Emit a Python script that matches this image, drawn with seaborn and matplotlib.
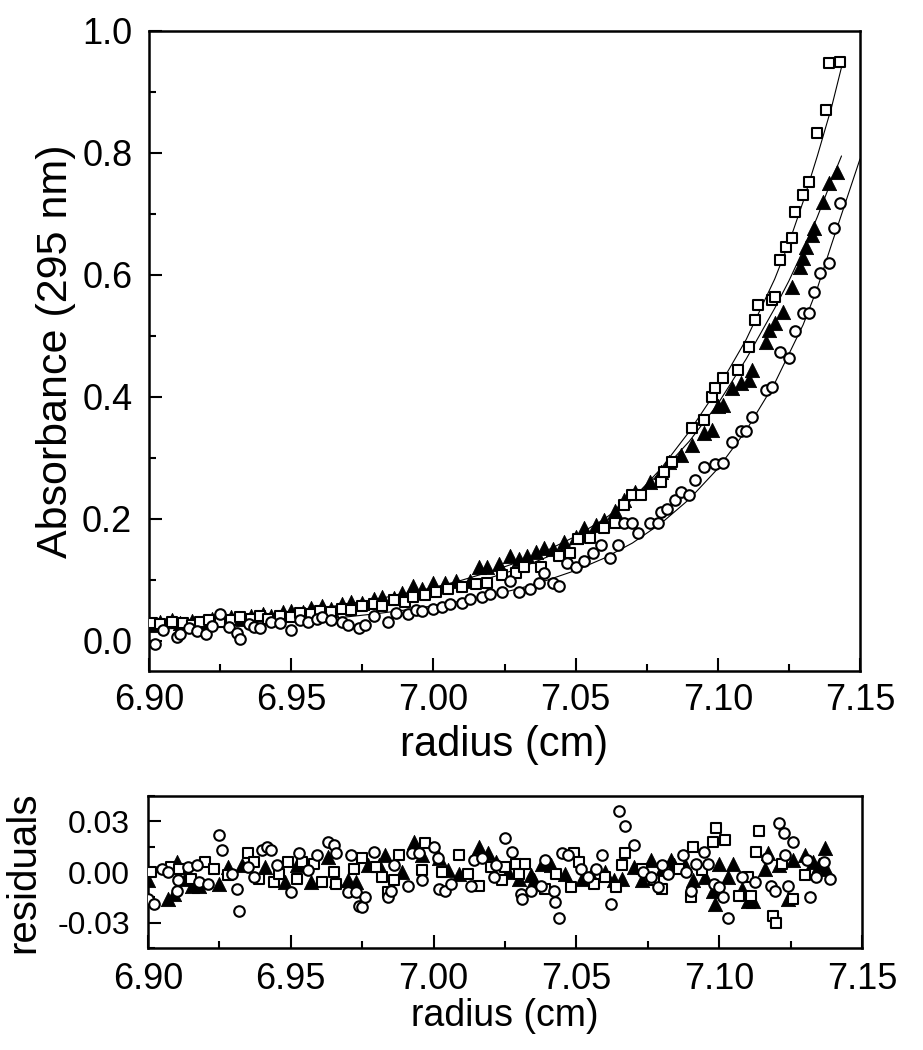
import numpy as np
import pandas as pd
import matplotlib
matplotlib.use('Agg')
import matplotlib.pyplot as plt
from matplotlib.ticker import MultipleLocator, FormatStrFormatter
import seaborn as sns

# ---- absorbance scans (upper panel) ----
sq_r = [6.901, 6.904, 6.908, 6.912, 6.915, 6.918, 6.921, 6.925, 6.929, 6.932, 6.936, 6.939,
        6.942, 6.946, 6.950, 6.953, 6.957, 6.960, 6.964, 6.968, 6.971, 6.975, 6.979, 6.982,
        6.986, 6.990, 6.993, 6.997, 7.001, 7.005, 7.010, 7.015, 7.019, 7.024, 7.029, 7.032,
        7.038, 7.044, 7.048, 7.051, 7.055, 7.060, 7.064, 7.067, 7.070, 7.073, 7.080, 7.081,
        7.084, 7.091, 7.095, 7.098, 7.099, 7.102, 7.107, 7.111, 7.113, 7.114, 7.119, 7.120,
        7.122, 7.124, 7.126, 7.127, 7.130, 7.132, 7.135, 7.138, 7.139, 7.143]
sq_a = [0.028, 0.027, 0.030, 0.029, 0.026, 0.031, 0.034, 0.030, 0.033, 0.038, 0.036, 0.040,
        0.035, 0.041, 0.039, 0.045, 0.043, 0.048, 0.046, 0.052, 0.050, 0.056, 0.060, 0.057,
        0.066, 0.063, 0.072, 0.075, 0.080, 0.084, 0.087, 0.092, 0.095, 0.108, 0.111, 0.121,
        0.121, 0.138, 0.144, 0.166, 0.169, 0.185, 0.193, 0.223, 0.239, 0.239, 0.260, 0.277,
        0.293, 0.349, 0.362, 0.400, 0.415, 0.431, 0.444, 0.482, 0.526, 0.551, 0.559, 0.564,
        0.625, 0.646, 0.660, 0.703, 0.731, 0.752, 0.833, 0.870, 0.948, 0.949]

tr_r = [6.901, 6.904, 6.908, 6.911, 6.915, 6.919, 6.922, 6.926, 6.929, 6.933, 6.936, 6.940,
        6.943, 6.947, 6.950, 6.954, 6.957, 6.961, 6.964, 6.968, 6.971, 6.975, 6.979, 6.982,
        6.986, 6.989, 6.993, 6.996, 7.000, 7.004, 7.008, 7.013, 7.016, 7.019, 7.023, 7.027,
        7.030, 7.033, 7.036, 7.039, 7.042, 7.046, 7.050, 7.053, 7.057, 7.060, 7.064, 7.067,
        7.071, 7.076, 7.080, 7.083, 7.087, 7.091, 7.095, 7.098, 7.100, 7.102, 7.105, 7.108,
        7.111, 7.112, 7.117, 7.118, 7.120, 7.123, 7.126, 7.129, 7.130, 7.131, 7.133, 7.134,
        7.137, 7.139, 7.142]
tr_a = [0.025, 0.030, 0.033, 0.028, 0.032, 0.030, 0.035, 0.033, 0.038, 0.036, 0.041, 0.044,
        0.040, 0.046, 0.049, 0.047, 0.053, 0.056, 0.052, 0.060, 0.063, 0.062, 0.068, 0.072,
        0.070, 0.078, 0.090, 0.085, 0.095, 0.095, 0.097, 0.097, 0.121, 0.121, 0.125, 0.138,
        0.133, 0.138, 0.145, 0.152, 0.150, 0.161, 0.170, 0.185, 0.190, 0.198, 0.212, 0.231,
        0.243, 0.260, 0.276, 0.293, 0.305, 0.321, 0.340, 0.346, 0.384, 0.387, 0.415, 0.423,
        0.428, 0.444, 0.490, 0.510, 0.521, 0.539, 0.580, 0.613, 0.628, 0.646, 0.666, 0.677,
        0.720, 0.750, 0.769]

ci_r = [6.902, 6.905, 6.910, 6.911, 6.914, 6.917, 6.920, 6.922, 6.925, 6.928, 6.931, 6.932,
        6.935, 6.937, 6.939, 6.943, 6.946, 6.950, 6.953, 6.956, 6.959, 6.961, 6.964, 6.968,
        6.970, 6.974, 6.976, 6.979, 6.984, 6.987, 6.991, 6.994, 6.996, 7.000, 7.003, 7.006,
        7.010, 7.013, 7.017, 7.020, 7.024, 7.027, 7.030, 7.034, 7.037, 7.039, 7.042, 7.044,
        7.047, 7.050, 7.053, 7.056, 7.059, 7.062, 7.065, 7.067, 7.070, 7.072, 7.076, 7.079,
        7.080, 7.082, 7.085, 7.087, 7.090, 7.092, 7.095, 7.099, 7.102, 7.105, 7.108, 7.110,
        7.112, 7.117, 7.119, 7.122, 7.125, 7.127, 7.130, 7.132, 7.134, 7.136, 7.139, 7.141,
        7.143]
ci_a = [-0.005, 0.018, 0.005, 0.011, 0.020, 0.016, 0.011, 0.024, 0.043, 0.022, 0.013, 0.002,
        0.027, 0.023, 0.021, 0.030, 0.028, 0.018, 0.033, 0.031, 0.036, 0.038, 0.034, 0.030,
        0.025, 0.021, 0.025, 0.040, 0.031, 0.045, 0.043, 0.050, 0.048, 0.051, 0.055, 0.060,
        0.062, 0.068, 0.072, 0.076, 0.080, 0.097, 0.079, 0.084, 0.095, 0.111, 0.095, 0.089,
        0.128, 0.120, 0.130, 0.144, 0.157, 0.136, 0.157, 0.193, 0.193, 0.177, 0.193, 0.193,
        0.211, 0.215, 0.231, 0.243, 0.239, 0.264, 0.284, 0.289, 0.292, 0.325, 0.343, 0.343,
        0.367, 0.411, 0.416, 0.474, 0.464, 0.507, 0.538, 0.538, 0.572, 0.603, 0.620, 0.677,
        0.718]

# ---- fitted curves ----
sq_fit_r = [6.90, 6.91, 6.92, 6.93, 6.94, 6.95, 6.96, 6.97, 6.98, 6.99, 7.00, 7.01, 7.02,
            7.03, 7.04, 7.05, 7.06, 7.07, 7.08, 7.09, 7.10, 7.11, 7.12, 7.125, 7.13, 7.135,
            7.14, 7.144]
sq_fit_a = [0.022, 0.025, 0.028, 0.032, 0.036, 0.041, 0.046, 0.053, 0.060, 0.069, 0.079,
            0.090, 0.103, 0.118, 0.137, 0.161, 0.192, 0.232, 0.282, 0.343, 0.413, 0.494,
            0.593, 0.652, 0.720, 0.795, 0.875, 0.950]
tr_fit_r = [6.90, 6.91, 6.92, 6.93, 6.94, 6.95, 6.96, 6.97, 6.98, 6.99, 7.00, 7.01, 7.02,
            7.03, 7.04, 7.05, 7.06, 7.07, 7.08, 7.09, 7.10, 7.11, 7.12, 7.125, 7.13, 7.135,
            7.14, 7.1435]
tr_fit_a = [0.026, 0.029, 0.033, 0.037, 0.042, 0.047, 0.053, 0.060, 0.068, 0.077, 0.087,
            0.099, 0.113, 0.129, 0.148, 0.171, 0.199, 0.234, 0.276, 0.327, 0.388, 0.462,
            0.545, 0.590, 0.640, 0.695, 0.755, 0.795]
ci_fit_r = [6.90, 6.91, 6.92, 6.93, 6.94, 6.95, 6.96, 6.97, 6.98, 6.99, 7.00, 7.01, 7.02,
            7.03, 7.04, 7.05, 7.06, 7.07, 7.08, 7.09, 7.10, 7.11, 7.12, 7.13, 7.135, 7.14,
            7.145, 7.15]
ci_fit_a = [0.018, 0.020, 0.022, 0.025, 0.028, 0.031, 0.035, 0.039, 0.044, 0.050, 0.057,
            0.065, 0.074, 0.085, 0.099, 0.115, 0.135, 0.160, 0.192, 0.232, 0.282, 0.345,
            0.422, 0.518, 0.578, 0.650, 0.720, 0.790]

# ---- residuals (lower panel) ----
sq_res_r = [6.901, 6.908, 6.911, 6.915, 6.920, 6.923, 6.928, 6.935, 6.937, 6.939, 6.944,
            6.946, 6.949, 6.952, 6.954, 6.958, 6.961, 6.965, 6.966, 6.972, 6.975, 6.980,
            6.982, 6.984, 6.986, 6.988, 6.996, 6.997, 7.003, 7.009, 7.012, 7.016, 7.020,
            7.024, 7.025, 7.029, 7.030, 7.032, 7.039, 7.043, 7.048, 7.049, 7.051, 7.056,
            7.060, 7.064, 7.066, 7.067, 7.073, 7.077, 7.080, 7.086, 7.090, 7.091, 7.094,
            7.098, 7.099, 7.102, 7.107, 7.110, 7.111, 7.113, 7.114, 7.119, 7.120, 7.122,
            7.126, 7.130]
sq_res = [0.000, 0.003, 0.002, -0.004, 0.006, 0.002, -0.002, 0.011, 0.006, -0.004, -0.006,
          -0.001, 0.006, -0.004, 0.006, 0.005, -0.006, 0.000, -0.007, 0.002, 0.008, 0.003,
          -0.003, -0.012, -0.005, 0.010, 0.001, 0.017, 0.000, 0.010, -0.001, -0.008, 0.003,
          -0.005, 0.003, 0.005, -0.001, 0.005, -0.010, -0.001, -0.009, 0.011, 0.006, -0.007,
          -0.003, -0.009, 0.004, 0.011, 0.002, -0.005, -0.010, 0.002, -0.015, 0.015, 0.001,
          0.018, 0.026, 0.019, -0.014, -0.003, -0.014, 0.012, 0.024, -0.026, -0.030, 0.005,
          -0.016, -0.002]

tr_res_r = [6.900, 6.907, 6.909, 6.910, 6.913, 6.9155, 6.918, 6.925, 6.928, 6.933, 6.941,
            6.948, 6.952, 6.957, 6.963, 6.966, 6.970, 6.973, 6.977, 6.981, 6.983, 6.989,
            6.993, 6.996, 7.002, 7.005, 7.009, 7.016, 7.019, 7.022, 7.026, 7.030, 7.034,
            7.035, 7.038, 7.041, 7.046, 7.052, 7.055, 7.060, 7.063, 7.066, 7.070, 7.073,
            7.076, 7.080, 7.083, 7.084, 7.088, 7.091, 7.095, 7.098, 7.0985, 7.100, 7.103,
            7.105, 7.108, 7.110, 7.112, 7.116, 7.117, 7.121, 7.124, 7.126, 7.130, 7.133,
            7.135, 7.137, 7.1375]
tr_res = [-0.005, -0.016, -0.013, 0.006, -0.004, -0.008, -0.008, -0.007, 0.003, 0.004,
          0.003, -0.006, 0.004, -0.006, 0.009, -0.005, -0.005, -0.006, 0.004, 0.004, 0.010,
          0.000, 0.018, 0.010, 0.008, 0.001, -0.001, 0.015, 0.011, 0.006, 0.000, -0.004,
          -0.002, -0.005, 0.005, 0.004, -0.001, -0.004, -0.002, 0.000, -0.005, -0.004,
          0.003, -0.005, 0.007, 0.002, 0.007, 0.004, 0.004, -0.005, -0.003, -0.011, -0.019,
          0.005, -0.003, 0.005, -0.010, -0.017, -0.017, 0.002, 0.011, 0.004, -0.016, 0.007,
          0.010, 0.006, 0.004, 0.014, 0.002]

ci_res_r = [6.900, 6.902, 6.905, 6.907, 6.910, 6.9105, 6.914, 6.917, 6.918, 6.921, 6.925,
            6.926, 6.9295, 6.931, 6.932, 6.935, 6.937, 6.940, 6.9415, 6.943, 6.945, 6.950,
            6.953, 6.956, 6.959, 6.963, 6.965, 6.966, 6.970, 6.971, 6.973, 6.974, 6.975,
            6.976, 6.979, 6.984, 6.985, 6.986, 6.991, 6.9925, 6.995, 6.996, 7.000, 7.0016,
            7.002, 7.004, 7.006, 7.013, 7.014, 7.017, 7.021, 7.022, 7.025, 7.0276, 7.0305,
            7.031, 7.034, 7.0375, 7.039, 7.042, 7.0425, 7.044, 7.045, 7.047, 7.0515, 7.054,
            7.057, 7.059, 7.062, 7.065, 7.067, 7.070, 7.0733, 7.076, 7.0786, 7.080, 7.082,
            7.0874, 7.0885, 7.090, 7.092, 7.0948, 7.096, 7.0983, 7.100, 7.1015, 7.103, 7.108,
            7.1124, 7.1166, 7.118, 7.1194, 7.121, 7.1226, 7.123, 7.124, 7.126, 7.1307,
            7.1317, 7.134, 7.1366, 7.1387]
ci_res = [-0.016, -0.019, 0.002, 0.000, -0.011, -0.005, 0.003, 0.004, -0.006, -0.007, 0.022,
          0.013, -0.001, -0.010, -0.023, 0.003, -0.003, 0.013, 0.015, 0.013, 0.004, -0.012,
          0.011, 0.001, 0.010, 0.018, 0.016, 0.011, -0.012, 0.010, -0.012, -0.020, -0.021,
          -0.015, 0.012, -0.015, -0.011, 0.004, -0.008, 0.011, 0.011, -0.005, 0.015, 0.008,
          -0.010, -0.011, -0.007, -0.008, 0.007, 0.008, -0.003, 0.004, 0.020, 0.012, -0.013,
          -0.016, -0.011, -0.008, 0.007, -0.011, -0.018, -0.027, 0.011, 0.010, 0.002, -0.003,
          0.002, 0.010, -0.019, 0.036, 0.027, 0.016, 0.000, -0.003, -0.009, 0.004, -0.001,
          0.010, 0.000, -0.011, 0.005, 0.012, 0.005, -0.007, -0.009, -0.015, -0.027, -0.003,
          -0.006, 0.008, -0.008, -0.011, 0.029, 0.023, 0.010, -0.008, 0.018, 0.007, -0.015,
          -0.003, 0.006, -0.004]

sns.set_theme(style='ticks')
plt.rcParams['font.family'] = ['Liberation Sans', 'DejaVu Sans']
plt.rcParams['axes.unicode_minus'] = False
plt.rcParams['axes.linewidth'] = 1.8

fig = plt.figure(figsize=(9.23, 10.5), dpi=100)
ax = fig.add_axes([149 / 923, 379 / 1050, 711 / 923, 640 / 1050])
ax2 = fig.add_axes([148 / 923, 102 / 1050, 714 / 923, 152 / 1050])

# markers: filled triangles, open squares, open circles
tri_kw = dict(marker='^', s=105, color='black', edgecolor='black', linewidth=0.6, zorder=3)
sq_kw = dict(marker='s', s=58, color='white', edgecolor='black', linewidth=1.5, zorder=4)
ci_kw = dict(marker='o', s=58, color='white', edgecolor='black', linewidth=1.5, zorder=5)

for r, a in [(sq_fit_r, sq_fit_a), (tr_fit_r, tr_fit_a), (ci_fit_r, ci_fit_a)]:
    sns.lineplot(x=r, y=a, color='black', lw=0.8, ax=ax, sort=False, estimator=None, zorder=2)

sns.scatterplot(x=tr_r, y=tr_a, ax=ax, **tri_kw)
sns.scatterplot(x=sq_r, y=sq_a, ax=ax, **sq_kw)
sns.scatterplot(x=ci_r, y=ci_a, ax=ax, **ci_kw)

sns.scatterplot(x=tr_res_r, y=tr_res, ax=ax2, **tri_kw)
sns.scatterplot(x=sq_res_r, y=sq_res, ax=ax2, **sq_kw)
sns.scatterplot(x=ci_res_r, y=ci_res, ax=ax2, **ci_kw)

ax.set_xlim(6.90, 7.15)
ax.set_ylim(-0.05, 1.0)
ax.xaxis.set_major_locator(MultipleLocator(0.05))
ax.xaxis.set_minor_locator(MultipleLocator(0.025))
ax.yaxis.set_major_locator(MultipleLocator(0.2))
ax.yaxis.set_minor_locator(MultipleLocator(0.1))
ax.xaxis.set_major_formatter(FormatStrFormatter('%.2f'))
ax.yaxis.set_major_formatter(FormatStrFormatter('%.1f'))

ax2.set_xlim(6.90, 7.15)
ax2.set_ylim(-0.045, 0.045)
ax2.xaxis.set_major_locator(MultipleLocator(0.05))
ax2.xaxis.set_minor_locator(MultipleLocator(0.025))
ax2.yaxis.set_major_locator(MultipleLocator(0.03))
ax2.yaxis.set_minor_locator(MultipleLocator(0.015))
ax2.xaxis.set_major_formatter(FormatStrFormatter('%.2f'))
ax2.yaxis.set_major_formatter(FormatStrFormatter('%.2f'))

for a in (ax, ax2):
    for sp in a.spines.values():
        sp.set_visible(True)
        sp.set_linewidth(1.8)
        sp.set_color('black')
    a.tick_params(which='major', direction='in', length=9.5, width=1.5, color='black')
    a.tick_params(which='minor', direction='in', length=5, width=1.5, color='black')
    a.tick_params(top=False, right=False, which='both', labelcolor='black')

ax.tick_params(axis='both', which='major', labelsize=26)
ax.tick_params(axis='x', which='major', pad=9)
ax.tick_params(axis='y', which='major', pad=12)
ax2.tick_params(axis='x', which='major', labelsize=26, pad=10)
ax2.tick_params(axis='y', which='major', labelsize=23, pad=13)

ax.set_xlabel('radius (cm)', fontsize=30, color='black')
ax.set_ylabel('Absorbance (295 nm)', fontsize=31, color='black')
ax2.set_xlabel('radius (cm)', fontsize=27, color='black')
ax2.set_ylabel('residuals', fontsize=29, color='black')
ax.xaxis.set_label_coords(0.5, -0.085)
ax.yaxis.set_label_coords(-0.102, 0.5)
ax2.xaxis.set_label_coords(0.5, -0.33)
ax2.yaxis.set_label_coords(-0.148, 0.5)

plt.savefig('out.png', dpi=100)
